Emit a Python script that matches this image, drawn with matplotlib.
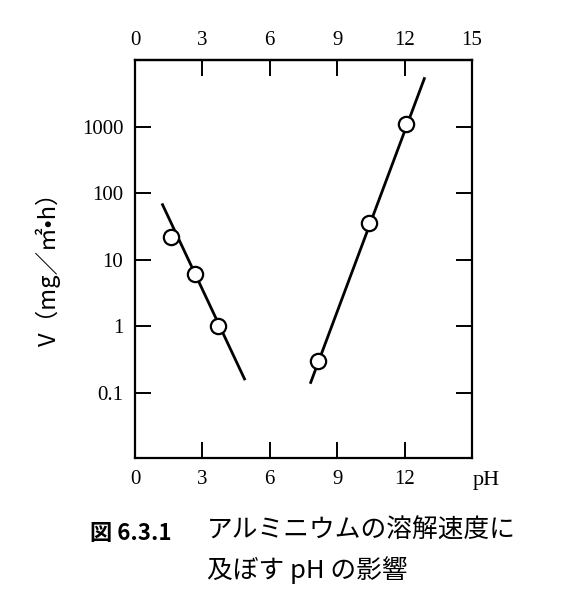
import matplotlib
matplotlib.use("Agg")
import matplotlib.pyplot as plt
from matplotlib.ticker import FixedLocator, FixedFormatter, NullLocator

# ---- data ----
acid_ph = [1.6, 2.65, 3.7]
acid_v = [22, 6.0, 1.0]
alk_ph = [8.15, 10.4, 12.05]
alk_v = [0.30, 36, 1100]
acid_fit_ph = [1.2, 4.9]
acid_fit_v = [70, 0.155]
alk_fit_ph = [7.8, 12.9]
alk_fit_v = [0.137, 5500]

x_ticks = [0, 3, 6, 9, 12, 15]
x_top_labels = ["0", "3", "6", "9", "12", "15"]
x_bot_ticks = [0, 3, 6, 9, 12]
x_bot_labels = ["0", "3", "6", "9", "12"]
y_ticks = [0.1, 1, 10, 100, 1000]
y_labels = ["0.1", "1", "10", "100", "1000"]

W, H = 561, 600
fig = plt.figure(figsize=(W / 100, H / 100), dpi=100)
ax = fig.add_axes([135 / W, 1 - 458 / H, (472 - 135) / W, (458 - 60) / H])

lw_line = 2.0
ax.plot(acid_fit_ph, acid_fit_v, color="black", lw=lw_line, solid_capstyle="butt", zorder=2)
ax.plot(alk_fit_ph, alk_fit_v, color="black", lw=lw_line, solid_capstyle="butt", zorder=2)
ax.plot(acid_ph, acid_v, "o", ms=11, mfc="white", mec="black", mew=1.6, zorder=3)
ax.plot(alk_ph, alk_v, "o", ms=11, mfc="white", mec="black", mew=1.6, zorder=3)

ax.set_yscale("log")
ax.set_xlim(0, 15)
ax.set_ylim(0.0105, 10000)

serif = "Liberation Serif"
tfs = 15

ax.xaxis.set_major_locator(FixedLocator(x_bot_ticks))
ax.xaxis.set_major_formatter(FixedFormatter(x_bot_labels))
ax.xaxis.set_minor_locator(NullLocator())
ax.yaxis.set_major_locator(FixedLocator(y_ticks))
ax.yaxis.set_major_formatter(FixedFormatter(y_labels))
ax.yaxis.set_minor_locator(NullLocator())

ax.tick_params(axis="both", which="major", direction="in", length=11.5, width=1.4,
               right=True, labelright=False)
ax.tick_params(axis="x", pad=9.0)
ax.tick_params(axis="y", pad=8.5)
for lab in ax.get_xticklabels() + ax.get_yticklabels():
    lab.set_fontfamily(serif)
    lab.set_fontsize(tfs)

for sp in ax.spines.values():
    sp.set_linewidth(1.6)

# top axis
top = ax.secondary_xaxis("top")
top.xaxis.set_major_locator(FixedLocator(x_ticks))
top.xaxis.set_major_formatter(FixedFormatter(x_top_labels))
top.tick_params(direction="in", length=11.5, width=1.4, pad=7.5)
for lab in top.get_xticklabels():
    lab.set_fontfamily(serif)
    lab.set_fontsize(tfs)
top.spines["top"].set_linewidth(1.6)

# "pH" on the bottom axis
ax.annotate("pH", xy=(15.65, 0), xycoords=("data", "axes fraction"),
            xytext=(0, -9.0), textcoords="offset points",
            ha="center", va="top", fontfamily=serif, fontsize=tfs + 1,
            annotation_clip=False)

# y label
fig.text(48 / W, 1 - 263 / H, "V（mg／㎡•h）", rotation=90, ha="center", va="center",
         fontsize=17, family=["Noto Sans CJK JP", "DejaVu Sans"])

# caption
cjk = ["Noto Sans CJK JP", "DejaVu Sans"]
fig.text(90 / W, 1 - 533 / H, "図 6.3.1", ha="left", va="center", fontsize=16,
         fontweight="bold", family=cjk)
fig.text(207 / W, 1 - 531 / H, "アルミニウムの溶解速度に", ha="left", va="center",
         fontsize=18.5, family=cjk)
fig.text(207 / W, 1 - 570 / H, "及ぼす pH の影響", ha="left", va="center",
         fontsize=18.5, family=cjk)

fig.savefig("out.png", dpi=100)
